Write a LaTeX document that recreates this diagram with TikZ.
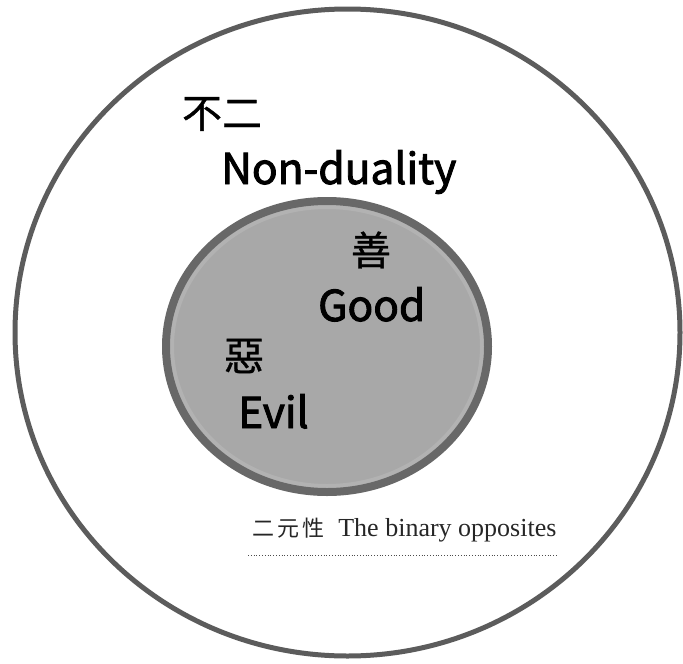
\documentclass[tikz,border=0pt]{standalone}
\usepackage{fontspec}
\newfontfamily\cjk{Noto Sans CJK TC}[FakeBold=0.8]
\newfontfamily\notecjk{Noto Sans CJK TC}[LetterSpace=14]
\newfontfamily\labelfont{Noto Sans CJK TC}[FakeBold=2.2]
\newfontfamily\notefont{Liberation Serif}
\definecolor{rimgray}{RGB}{92,92,92}
\definecolor{ringgray}{RGB}{104,104,104}
\definecolor{ballgray}{RGB}{168,168,168}
\tikzset{
  hanzi/.style={font=\cjk\fontsize{40}{40}\selectfont},
  word/.style={anchor=base west,inner sep=0pt,font=\labelfont\fontsize{42.5}{42.5}\selectfont},
}
\begin{document}
\begin{tikzpicture}[x=1pt,y=-1pt]
        \useasboundingbox (0,0) rectangle (683,664);
        % Non-duality
        \draw[rimgray,line width=5pt] (347.5,332.5) ellipse [x radius=332.5pt,y radius=323.5pt];
        \node[hanzi] (buer) at (222,114) {不二};
        \node[word] (nondual) at (221,184) {Non-duality};
        % Good and Evil
        \draw[ringgray,fill=ballgray,line width=8pt] (327,346.5) ellipse [x radius=161pt,y radius=145.5pt];
        \draw[white,opacity=0.12,line width=4pt] (327,346.5) ellipse [x radius=155pt,y radius=139.5pt];
        \node[hanzi] (shan) at (371,250) {善};
        \node[word] (good) at (318,321) {Good};
        \node[hanzi] (e) at (244,356) {惡};
        \node[word] (evil) at (238,428) {Evil};
        % The binary opposites
        \node[anchor=base west,inner sep=0pt,text=black!85] (note) at (252,536)
            {\notecjk\fontsize{22}{22}\selectfont 二元性\hspace{14pt}\notefont\fontsize{26}{26}\selectfont The binary opposites};
        \coordinate (rulestart) at (248,555);
        \coordinate (ruleend) at (558,555);
        \draw[black!70,dotted,line width=0.8pt] (rulestart) -- (ruleend);
    \end{tikzpicture}
\end{document}
